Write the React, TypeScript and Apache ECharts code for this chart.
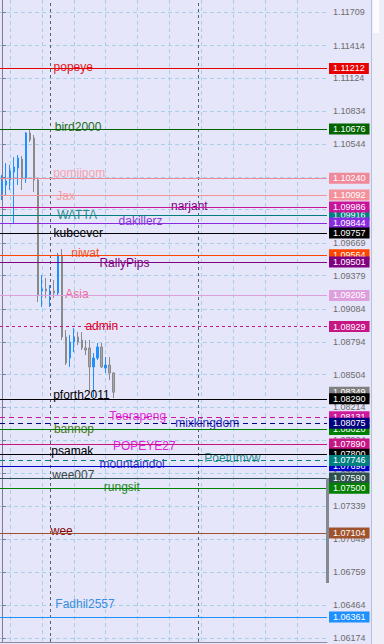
import React, { useEffect, useRef } from 'react';
import * as echarts from 'echarts';

const FONT = '"Liberation Sans", Arial, sans-serif';

// time slots (bars) shown on the chart
const slotCount = 82;
const categories = Array.from({ length: slotCount }, (_, i) => `bar${i + 1}`);

// OHLC candles (first 29 slots)
const candleOpen = [1.10137, 1.10181, 1.10225, 1.10296, 1.10331, 1.10411, 1.10234, 1.10641, 1.10596, 1.10225, 1.09243, 1.09261, 1.09199, 1.09243, 1.09226, 1.09562, 1.08837, 1.08651, 1.08792, 1.08837, 1.0881, 1.0874, 1.0874, 1.08572, 1.08651, 1.08749, 1.08563, 1.08589, 1.08519];
const candleClose = [1.10207, 1.10216, 1.10305, 1.1034, 1.1042, 1.10234, 1.10641, 1.10579, 1.10225, 1.09208, 1.09261, 1.09243, 1.09243, 1.09226, 1.09562, 1.08837, 1.08607, 1.08792, 1.08837, 1.08792, 1.0874, 1.08722, 1.08572, 1.08651, 1.08749, 1.08572, 1.08589, 1.08519, 1.08349];
const candleLow = [1.10048, 1.10092, 1.10137, 1.09845, 1.10181, 1.10137, 1.10199, 1.10561, 1.10119, 1.09146, 1.09102, 1.09182, 1.09102, 1.09182, 1.09199, 1.0881, 1.08589, 1.08572, 1.08704, 1.08766, 1.08722, 1.08677, 1.08342, 1.08306, 1.08634, 1.08563, 1.08519, 1.08457, 1.08297];
const candleHigh = [1.10269, 1.10375, 1.10358, 1.10428, 1.10446, 1.10437, 1.10649, 1.10667, 1.10623, 1.10243, 1.09385, 1.09358, 1.09296, 1.09341, 1.0958, 1.09615, 1.08899, 1.08854, 1.08916, 1.08881, 1.08881, 1.0881, 1.0881, 1.08695, 1.08784, 1.08784, 1.0866, 1.0866, 1.08527];

// price scale tick labels
const tickValues = [1.11709, 1.11414, 1.11124, 1.10834, 1.10544, 1.10254, 1.09964, 1.09669, 1.09379, 1.09084, 1.08794, 1.08504, 1.08214, 1.07924, 1.07629, 1.07339, 1.07049, 1.06759, 1.06464, 1.06174];

// time grid and period separators (slot positions)
const gridSlots = [2, 10, 18, 26, 34, 42, 50, 58, 66, 74];
const separatorSlots = [12.1, 49.2];

// horizontal levels (in drawing order)
const levelNames = ['popeye', 'bird2000', 'pomiipom', 'Jax', 'WATTA', 'narjant', 'dakillerz', 'kubeever', 'niwat', 'RallyPips', 'Asia', 'admin', 'pforth2011', 'Teerapeng', 'bannop', 'mixkingdom', 'POPEYE27', 'psamak', 'mountaindoi', 'Poetumvw', 'wee007', 'rungsit', 'wee', 'Fadhil2557'];
const levelPrices = [1.11212, 1.10676, 1.1024, 1.10092, 1.09916, 1.09986, 1.09844, 1.09757, 1.09564, 1.09501, 1.09205, 1.08929, 1.0829, 1.08131, 1.0802, 1.08075, 1.0789, 1.078, 1.07698, 1.07746, 1.0759, 1.075, 1.07104, 1.06361];
const levelTextSlots = [12.8, 13.1, 12.7, 13.5, 13.7, 42.25, 29.1, 12.8, 17.25, 24.3, 15.75, 20.8, 12.7, 26.8, 12.9, 43.3, 27.7, 12.25, 24.3, 50.6, 12.5, 25.4, 12.1, 13.25];
const levelTextPrices = [1.11224, 1.10694, 1.10287, 1.10084, 1.09912, 1.09995, 1.09859, 1.09756, 1.09579, 1.09491, 1.09217, 1.08934, 1.08324, 1.08138, 1.08023, 1.08076, 1.07873, 1.07829, 1.07718, 1.07767, 1.07616, 1.07514, 1.07121, 1.06476];

// styles of the levels
const levelColors = ['#e80000', '#006400', '#f0899a', '#f4929c', '#008080', '#c8149a', '#8a2be2', '#000000', '#ff4500', '#800080', '#dda0dd', '#c71585', '#000000', '#d0189a', '#008000', '#000080', '#c71585', '#000000', '#0000cd', '#008080', '#2f4f4f', '#008000', '#a0522d', '#1e90ff'];
const levelTextColors = ['#e01818', '#1e6e1e', '#f4a3ae', '#f4a0a4', '#2a8c8c', '#800080', '#8a3ad8', '#000000', '#f0501e', '#800080', '#f06a9c', '#e00020', '#000000', '#e028d8', '#4a7a20', '#2a2ac0', '#e020e0', '#000000', '#3434c8', '#2a9090', '#404848', '#1e8a1e', '#800000', '#3a8ee0'];
const levelDashed = [false, false, false, false, false, false, false, false, false, false, false, true, false, true, false, true, false, false, false, true, false, false, false, false];
const bidColor = '#808080';

export default function App() {
  const ref = useRef<HTMLDivElement>(null);

  useEffect(() => {
    document.body.style.margin = '0';
    const chart = echarts.init(ref.current!, null, { renderer: 'svg' });

    const candles = candleOpen.map((o, i) => [o, candleClose[i], candleLow[i], candleHigh[i]]);
    const bidPrice = candleClose[candleClose.length - 1];

    const boxLabel = (price: number, color: string) => ({
      show: true,
      position: 'end',
      distance: 2,
      formatter: price.toFixed(5),
      backgroundColor: color,
      color: '#ffffff',
      opacity: 1,
      padding: [1, 4, 0, 4],
      fontSize: 9,
      lineHeight: 10,
      fontFamily: FONT,
    });

    const levelLines: any[] = levelPrices.map((p, i) => ({
      name: levelNames[i],
      yAxis: p,
      lineStyle: { color: levelColors[i], width: 1, opacity: 1, type: levelDashed[i] ? (levelNames[i] === 'admin' ? [3, 3] : [5, 4]) : 'solid' },
      label: boxLabel(p, levelColors[i]),
    }));
    const bidIndex = levelPrices.findIndex((p) => p < bidPrice);
    levelLines.splice(bidIndex, 0, {
      name: 'bid',
      yAxis: bidPrice,
      lineStyle: { color: 'rgba(0,0,0,0)', width: 1, opacity: 1 },
      label: boxLabel(bidPrice, bidColor),
    });

    const separatorLines = separatorSlots.map((s) => ({
      xAxis: s,
      lineStyle: { color: '#5c5c70', type: [3, 3], width: 1, opacity: 1 },
      label: { show: false },
    }));

    const textPoints = levelNames.map((n, i) => ({
      name: n,
      value: [levelTextSlots[i], levelTextPrices[i]],
      label: { color: levelTextColors[i], opacity: 1 },
    }));

    const option: any = {
      animation: false,
      backgroundColor: '#e6e6fa',
      textStyle: { fontFamily: FONT },
      grid: { left: -1, right: 57, top: 0, bottom: 2, containLabel: false },
      xAxis: [
        {
          type: 'category',
          data: categories,
          boundaryGap: true,
          axisLine: { show: true, lineStyle: { color: '#8c8ca0', width: 1 } },
          axisTick: { show: false },
          axisLabel: { show: false },
          splitLine: { show: false },
        },
        {
          type: 'value',
          min: -0.5,
          max: slotCount - 0.5,
          axisLine: { show: false },
          axisTick: { show: false, customValues: gridSlots },
          axisLabel: { show: false, customValues: gridSlots },
          splitLine: { show: true, lineStyle: { color: '#a8d0e6', type: [4, 3], width: 1 } },
        },
      ],
      yAxis: {
        type: 'value',
        position: 'right',
        min: 1.0614,
        max: 1.11817,
        axisLine: { show: true, lineStyle: { color: '#7c7c94', width: 1 } },
        axisTick: { show: true, length: 4, inside: false, customValues: tickValues, lineStyle: { color: '#7c7c94' } },
        axisLabel: {
          show: true,
          customValues: tickValues,
          formatter: (v: number) => v.toFixed(5),
          color: '#6c6c6c',
          fontSize: 9,
          margin: 6,
          fontFamily: FONT,
        },
        splitLine: { show: true, lineStyle: { color: '#a8d0e6', type: [4, 3], width: 1 } },
      },
      graphic: [
        { type: 'rect', shape: { x: 371, y: 0, width: 13, height: 644 }, style: { fill: '#eeeef8' }, silent: true },
        { type: 'line', shape: { x1: 371.5, y1: 0, x2: 371.5, y2: 644 }, style: { stroke: '#b8c0dc', lineWidth: 1 }, silent: true },
        { type: 'rect', shape: { x: 373, y: 0, width: 6, height: 33 }, style: { fill: '#fafaff' }, silent: true },
        { type: 'rect', shape: { x: 326, y: 478, width: 3, height: 105 }, style: { fill: '#848a94' }, silent: true, z: 100 },
      ],
      series: [
        {
          type: 'candlestick',
          xAxisIndex: 0,
          yAxisIndex: 0,
          data: candles,
          barWidth: 2,
          itemStyle: {
            color: '#1e90ff',
            color0: '#a8a8a8',
            borderColor: '#1e90ff',
            borderColor0: '#8a8a8a',
            borderWidth: 1,
          },
        },
        {
          type: 'scatter',
          name: 'levels',
          xAxisIndex: 1,
          yAxisIndex: 0,
          symbolSize: 1,
          itemStyle: { color: 'rgba(0,0,0,0)', opacity: 1 },
          silent: true,
          data: textPoints,
          label: {
            show: true,
            position: 'right',
            distance: 0,
            formatter: '{b}',
            fontSize: 12,
            fontFamily: FONT,
            opacity: 1,
          },
          markLine: {
            symbol: ['none', 'none'],
            precision: 5,
            silent: true,
            animation: false,
            data: [...separatorLines, ...levelLines],
          },
        },
      ],
    };

    chart.setOption(option);
    return () => chart.dispose();
  }, []);

  return <div ref={ref} style={{ width: 384, height: 644 }} />;
}
